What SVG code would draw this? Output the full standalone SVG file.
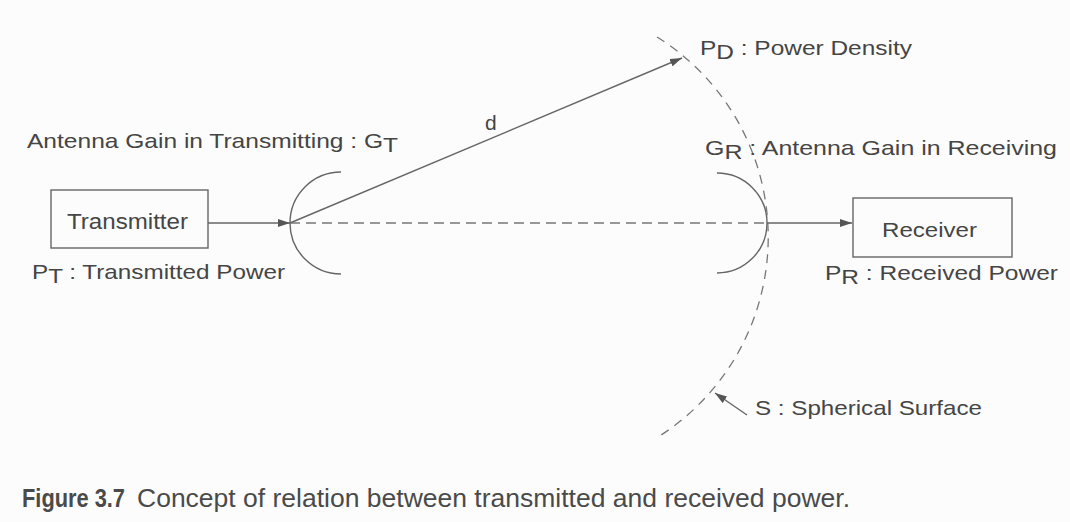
<svg xmlns="http://www.w3.org/2000/svg" width="1070" height="522" viewBox="0 0 1070 522">
<defs>
<style>
.lbl{font-family:"Liberation Sans",Arial,sans-serif;font-size:21px;fill:#454545}
.box{fill:none;stroke:#666;stroke-width:1.4}
.ln{fill:none;stroke:#666;stroke-width:1.4}
.dash{fill:none;stroke:#777;stroke-width:1.3;stroke-dasharray:10 6}
.cap{font-family:"Liberation Sans",Arial,sans-serif;font-size:25px;fill:#4a4a4a}
</style>
<marker id="ah" viewBox="0 0 12 8" refX="12" refY="4" markerWidth="12" markerHeight="8" markerUnits="userSpaceOnUse" orient="auto">
<path d="M0,0 L12,4 L0,8 z" fill="#555"/>
</marker>
</defs>
<rect width="1070" height="522" fill="#fcfcfc"/>

<g id="transmitter">
<rect class="box" x="51" y="190" width="157" height="58"/>
<text class="lbl" x="67" y="229" textLength="121" lengthAdjust="spacingAndGlyphs" style="font-size:22px">Transmitter</text>
<text class="lbl" x="32" y="279" textLength="253" lengthAdjust="spacingAndGlyphs">P<tspan dy="4">T</tspan><tspan dy="-4"> : Transmitted Power</tspan></text>
</g>

<g id="tx-antenna">
<path class="ln" d="M341,172 A51,51 0 0 0 341,274"/>
<text class="lbl" x="27" y="148" textLength="371" lengthAdjust="spacingAndGlyphs">Antenna Gain in Transmitting : G<tspan dy="4">T</tspan></text>
</g>

<g id="rx-antenna">
<path class="ln" d="M717,173 A50,50 0 0 1 717,273"/>
<text class="lbl" x="705" y="155" textLength="352" lengthAdjust="spacingAndGlyphs">G<tspan dy="4">R</tspan><tspan dy="-4"> : Antenna Gain in Receiving</tspan></text>
</g>

<g id="receiver">
<rect class="box" x="853" y="198" width="159" height="59"/>
<text class="lbl" x="882" y="237" textLength="95" lengthAdjust="spacingAndGlyphs">Receiver</text>
<text class="lbl" x="825" y="280" textLength="233" lengthAdjust="spacingAndGlyphs">P<tspan dy="4">R</tspan><tspan dy="-4"> : Received Power</tspan></text>
</g>

<g id="sphere">
<path class="dash" d="M657,37 A236,236 0 0 1 658,437" style="stroke-dasharray:9 7"/>
<text class="lbl" x="755" y="415" textLength="227" lengthAdjust="spacingAndGlyphs">S : Spherical Surface</text>
</g>

<g id="power-density">
<text class="lbl" x="700" y="55" textLength="212" lengthAdjust="spacingAndGlyphs">P<tspan dy="4">D</tspan><tspan dy="-4"> : Power Density</tspan></text>
</g>

<g id="connectors">
<line class="ln" x1="208" y1="223" x2="290" y2="223" marker-end="url(#ah)"/>
<line class="dash" x1="290" y1="223" x2="767" y2="223"/>
<line class="ln" x1="290" y1="223" x2="682" y2="58" marker-end="url(#ah)"/>
<text class="lbl" x="485" y="130">d</text>
<line class="ln" x1="767" y1="223" x2="852" y2="223" marker-end="url(#ah)"/>
<line class="ln" x1="747" y1="415" x2="715" y2="393" marker-end="url(#ah)"/>
</g>

<g id="caption">
<text class="cap" x="22" y="507" font-weight="bold" textLength="103" lengthAdjust="spacingAndGlyphs">Figure 3.7</text>
<text class="cap" x="137" y="507" textLength="713" lengthAdjust="spacingAndGlyphs">Concept of relation between transmitted and received power.</text>
</g>
</svg>
